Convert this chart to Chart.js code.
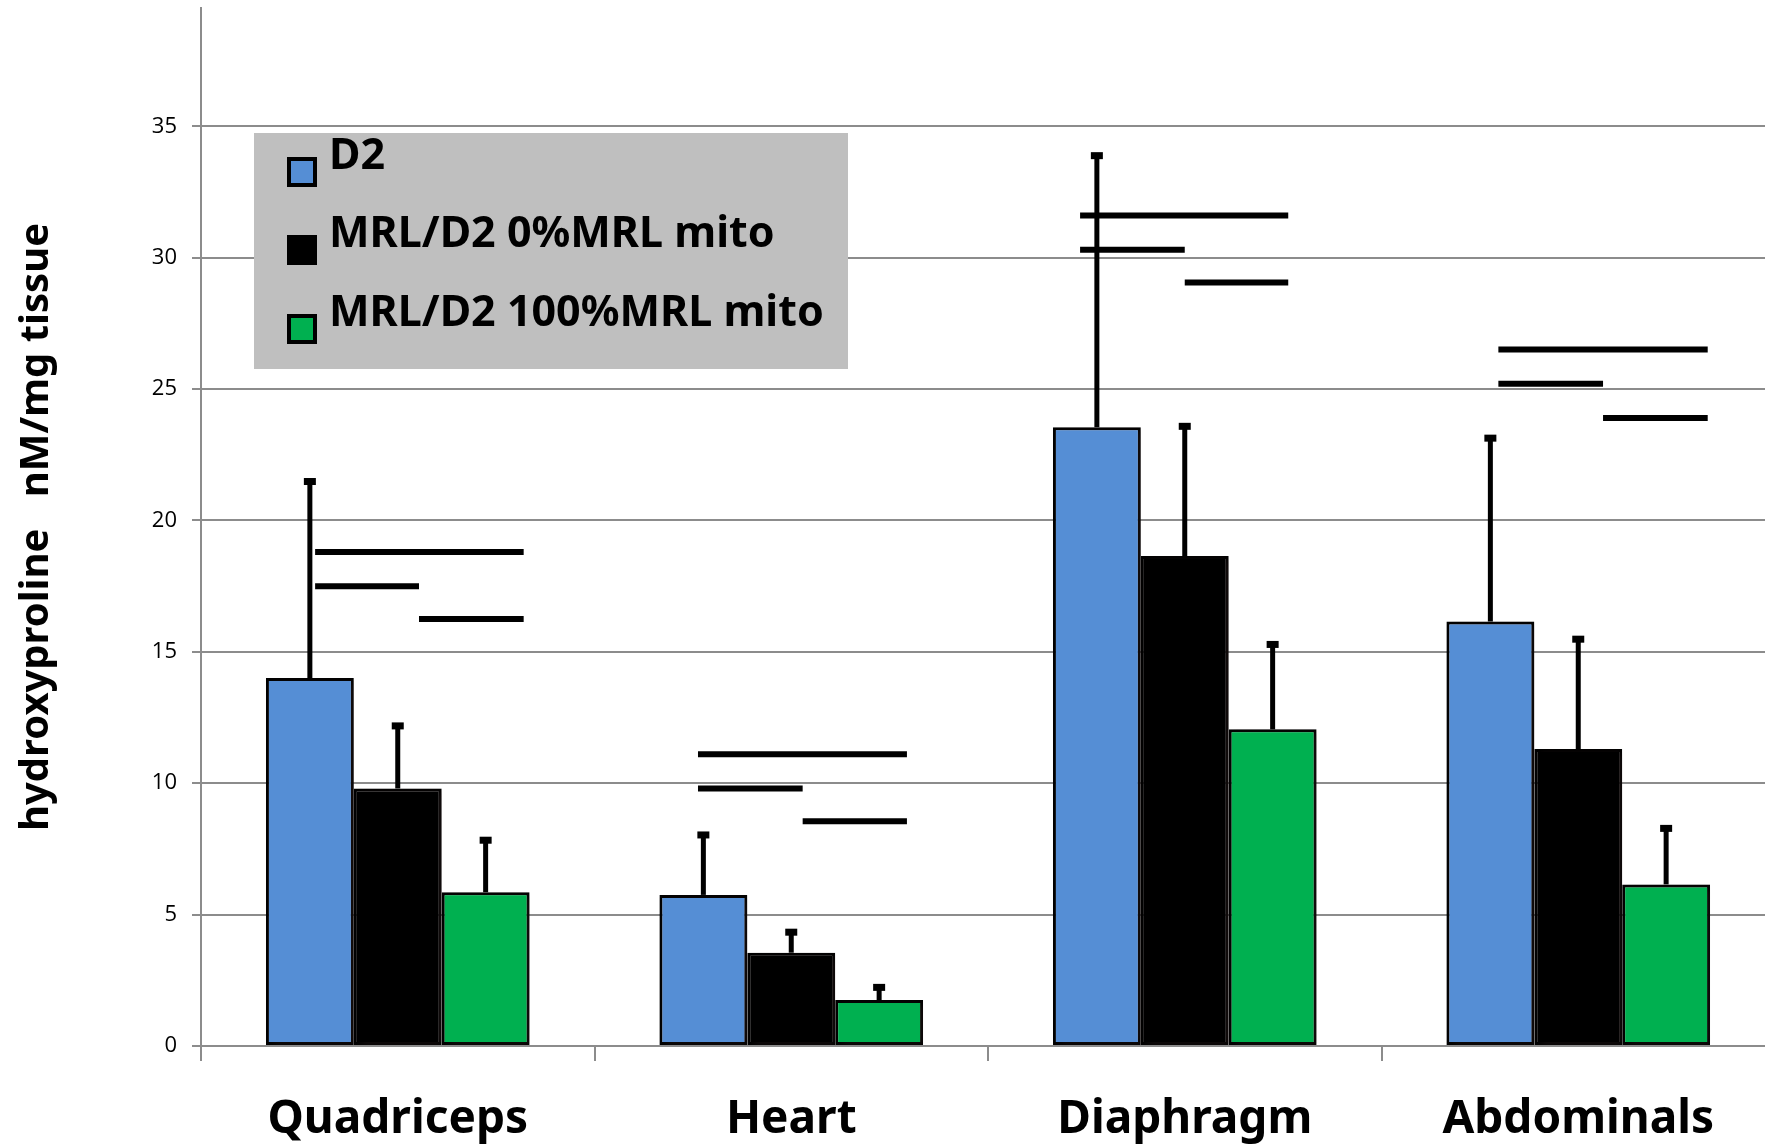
<!DOCTYPE html>
<html><head><meta charset="utf-8">
<script src="https://cdn.jsdelivr.net/npm/chart.js@4.4.0/dist/chart.umd.min.js"></script>
<style>html,body{margin:0;padding:0;background:#fff;overflow:hidden;} canvas{display:block;}</style>
</head><body>
<canvas id="c" width="1775" height="1145"></canvas>
<script>
const categories = ['Quadriceps', 'Heart', 'Diaphragm', 'Abdominals'];
const seriesNames = ['D2', 'MRL/D2 0%MRL mito', 'MRL/D2 100%MRL mito'];
const d2Values = [14.0, 5.75, 23.55, 16.15];
const mrl0Values = [9.8, 3.55, 18.65, 11.3];
const mrl100Values = [5.85, 1.75, 12.05, 6.15];
const d2ErrTop = [21.5, 8.05, 33.9, 23.15];
const mrl0ErrTop = [12.2, 4.35, 23.6, 15.5];
const mrl100ErrTop = [7.85, 2.25, 15.3, 8.3];
// significance lines (y value, and x extents as offsets from category centre in category units)
const sigLongY = [18.8, 11.1, 31.6, 26.5];
const sigLeftY = [17.5, 9.8, 30.3, 25.2];
const sigRightY = [16.25, 8.55, 29.05, 23.9];
const sigStart = [-0.21, -0.237, -0.266, -0.203];
const sigMid = [0.054, 0.029, 0.0, 0.063];
const sigEnd = [0.32, 0.294, 0.263, 0.329];
const yTickValues = [0, 5, 10, 15, 20, 25, 30, 35];

const colors = ['#558ED5', '#000000', '#00B050'];
const errTops = [d2ErrTop, mrl0ErrTop, mrl100ErrTop];
const FONT = "'Noto Sans', sans-serif";

const shadowPlugin = {
  id: 'shadow',
  beforeDatasetsDraw(chart) {
    const ctx = chart.ctx;
    ctx.save();
    ctx.shadowColor = 'rgba(60,40,40,0.35)';
    ctx.shadowBlur = 8;
    ctx.shadowOffsetX = 4;
    ctx.shadowOffsetY = 2;
  },
  afterDatasetsDraw(chart) { chart.ctx.restore(); }
};

const errorPlugin = {
  id: 'errs',
  afterDatasetsDraw(chart) {
    const ctx = chart.ctx;
    const ys = chart.scales.y, xs = chart.scales.x;
    ctx.save();
    ctx.strokeStyle = '#000';
    ctx.fillStyle = '#000';
    chart.data.datasets.forEach((ds, i) => {
      const meta = chart.getDatasetMeta(i);
      meta.data.forEach((bar, j) => {
        const yE = ys.getPixelForValue(errTops[i][j]);
        ctx.lineWidth = 5;
        ctx.beginPath();
        ctx.moveTo(bar.x, bar.y);
        ctx.lineTo(bar.x, yE);
        ctx.stroke();
        ctx.fillRect(bar.x - 6, yE - 3, 12, 7);
      });
    });
    // significance lines
    ctx.lineWidth = 6;
    categories.forEach((c, j) => {
      const segs = [
        [sigStart[j], sigEnd[j], sigLongY[j]],
        [sigStart[j], sigMid[j], sigLeftY[j]],
        [sigMid[j], sigEnd[j], sigRightY[j]]
      ];
      segs.forEach(([a, b, v]) => {
        const y = ys.getPixelForValue(v);
        ctx.beginPath();
        ctx.moveTo(xs.getPixelForValue(j + a), y);
        ctx.lineTo(xs.getPixelForValue(j + b), y);
        ctx.stroke();
      });
    });
    ctx.restore();
  }
};

const legendPlugin = {
  id: 'customLegend',
  afterDraw(chart) {
    const ctx = chart.ctx;
    const ca = chart.chartArea;
    const bx = ca.left + 53, by = ca.top + 125, bw = 594, bh = 236;
    ctx.save();
    ctx.fillStyle = '#BFBFBF';
    ctx.fillRect(bx, by, bw, bh);
    const rows = [39, 117, 196];
    chart.data.datasets.forEach((ds, i) => {
      const sy = by + rows[i];
      ctx.fillStyle = '#000';
      ctx.fillRect(bx + 33, sy - 15, 30, 30);
      ctx.fillStyle = ds.backgroundColor;
      ctx.fillRect(bx + 37, sy - 11, 22, 22);
      ctx.fillStyle = '#000';
      ctx.font = 'bold 43px ' + FONT;
      ctx.textBaseline = 'middle';
      ctx.textAlign = 'left';
      ctx.fillText(ds.label, bx + 75, sy - 15);
    });
    ctx.restore();
  }
};

new Chart(document.getElementById('c'), {
  type: 'bar',
  data: {
    labels: categories,
    datasets: [
      { label: seriesNames[0], data: d2Values, backgroundColor: colors[0] },
      { label: seriesNames[1], data: mrl0Values, backgroundColor: colors[1] },
      { label: seriesNames[2], data: mrl100Values, backgroundColor: colors[2] }
    ].map(d => Object.assign(d, { borderColor: '#000', borderWidth: 3, borderSkipped: false, categoryPercentage: 0.67, barPercentage: 1.0 }))
  },
  options: {
    responsive: false,
    animation: false,
    devicePixelRatio: 1,
    layout: { padding: { top: 8, left: 0, right: 0, bottom: 0 } },
    plugins: { legend: { display: false }, tooltip: { enabled: false } },
    scales: {
      x: {
        afterFit(s) { s.height = 99; s.paddingLeft = 0; s.paddingRight = 0; },
        grid: { display: true, drawOnChartArea: false, drawTicks: true, tickLength: 15, offset: true, color: '#8c8c8c', lineWidth: 2 },
        border: { display: true, color: '#8c8c8c', width: 2 },
        ticks: { color: '#000', font: { family: FONT, size: 46, weight: 'bold' }, padding: 31 }
      },
      y: {
        min: 0, max: 39.5,
        afterFit(s) { s.width = 201; s.paddingTop = 0; s.paddingBottom = 0; },
        afterBuildTicks(s) { s.ticks = yTickValues.map(v => ({ value: v })); },
        grid: { color: '#8c8c8c', lineWidth: 2, tickLength: 9 },
        border: { display: true, color: '#8c8c8c', width: 2 },
        ticks: { color: '#000', font: { family: "'Open Sans', sans-serif", size: 22 }, padding: 15 },
        title: { display: true, text: 'hydroxyproline   nM/mg tissue', color: '#000', font: { family: FONT, size: 40, weight: 'bold' }, padding: { top: 13, bottom: 0 } }
      }
    }
  },
  plugins: [shadowPlugin, errorPlugin, legendPlugin]
});
</script>
</body></html>
